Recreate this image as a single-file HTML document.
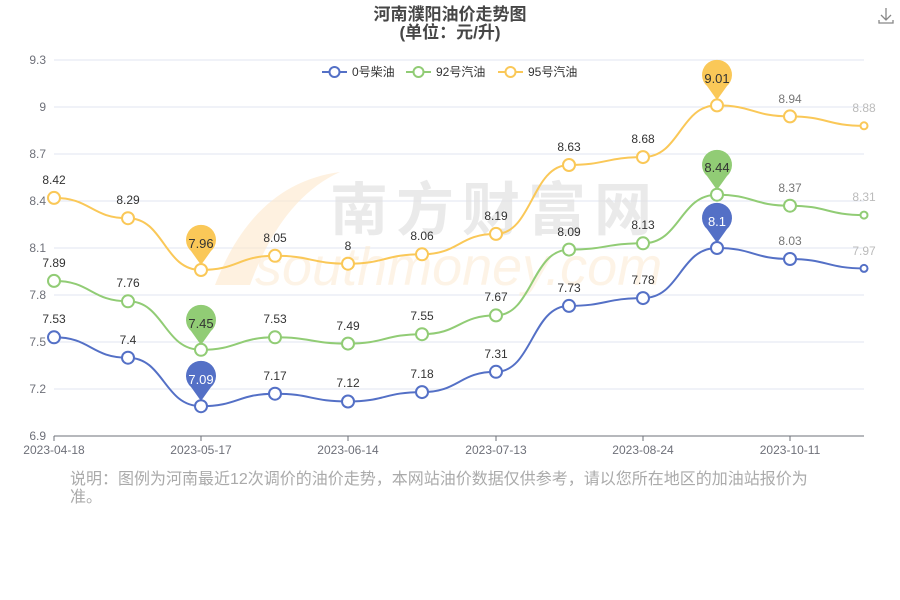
<!DOCTYPE html><html><head><meta charset="utf-8"><style>body{margin:0;background:#fff}svg{display:block}text{font-family:"Liberation Sans","Noto Sans CJK SC",sans-serif}</style></head><body>
<svg width="900" height="600" viewBox="0 0 900 600">
<text x="450" y="20" text-anchor="middle" font-size="17" font-weight="bold" fill="#464646">河南濮阳油价走势图</text>
<text x="450" y="38" text-anchor="middle" font-size="17" font-weight="bold" fill="#464646">(单位：元/升)</text>
<g stroke="#888" stroke-width="1.3" fill="none"><path d="M886 8v12M881 15l5 5 5-5M879 20v3h14v-3"/></g>
<g stroke="#e0e6f1" stroke-width="1"><line x1="54" x2="864" y1="60" y2="60"/><line x1="54" x2="864" y1="107" y2="107"/><line x1="54" x2="864" y1="154" y2="154"/><line x1="54" x2="864" y1="201" y2="201"/><line x1="54" x2="864" y1="248" y2="248"/><line x1="54" x2="864" y1="295" y2="295"/><line x1="54" x2="864" y1="342" y2="342"/><line x1="54" x2="864" y1="389" y2="389"/></g>
<line x1="54" x2="864" y1="436" y2="436" stroke="#6e7079"/>
<g stroke="#6e7079"><line x1="54" x2="54" y1="436" y2="441"/><line x1="201" x2="201" y1="436" y2="441"/><line x1="348" x2="348" y1="436" y2="441"/><line x1="496" x2="496" y1="436" y2="441"/><line x1="643" x2="643" y1="436" y2="441"/><line x1="790" x2="790" y1="436" y2="441"/></g>
<g font-size="12" fill="#6e7079" text-anchor="end"><text x="46" y="64">9.3</text><text x="46" y="111">9</text><text x="46" y="158">8.7</text><text x="46" y="205">8.4</text><text x="46" y="252">8.1</text><text x="46" y="299">7.8</text><text x="46" y="346">7.5</text><text x="46" y="393">7.2</text><text x="46" y="440">6.9</text></g>
<g font-size="12" fill="#6e7079" text-anchor="middle"><text x="54" y="454">2023-04-18</text><text x="201" y="454">2023-05-17</text><text x="348" y="454">2023-06-14</text><text x="496" y="454">2023-07-13</text><text x="643" y="454">2023-08-24</text><text x="790" y="454">2023-10-11</text></g>
<!-- watermark -->
<path d="M215 285 C240 220 280 180 340 172 C300 190 270 230 250 285 Z" fill="#fde8cc" opacity="0.6"/>
<text x="330" y="230" font-size="58" font-weight="bold" fill="#e2e2e2" opacity="0.7" letter-spacing="8">南方财富网</text>
<text x="255" y="285" font-size="54" font-style="italic" fill="#fdebd2" opacity="0.55">southmoney.com</text>
<!-- legend -->
<g stroke-width="2" fill="#fff"><line x1="322" x2="347" y1="72" y2="72" stroke="#5470c6"/><circle cx="334.5" cy="72" r="5" stroke="#5470c6"/><line x1="406" x2="431" y1="72" y2="72" stroke="#91cc75"/><circle cx="418.5" cy="72" r="5" stroke="#91cc75"/><line x1="498" x2="523" y1="72" y2="72" stroke="#fac858"/><circle cx="510.5" cy="72" r="5" stroke="#fac858"/></g>
<g font-size="12" fill="#333"><text x="352" y="76">0号柴油</text><text x="436" y="76">92号汽油</text><text x="528" y="76">95号汽油</text></g>
<g fill="none" stroke-width="2">
<path stroke="#5470c6" d="M54 337.3C91 337.3 91 357.7 128 357.7C164 357.7 164 406.2 201 406.2C238 406.2 238 393.7 275 393.7C311 393.7 311 401.5 348 401.5C385 401.5 385 392.1 422 392.1C459 392.1 459 371.8 496 371.8C532 371.8 532 305.9 569 305.9C606 305.9 606 298.1 643 298.1C680 298.1 680 248 717 248C753 248 753 259 790 259C827 259 827 268.4 864 268.4"/>
<path stroke="#91cc75" d="M54 280.9C91 280.9 91 301.3 128 301.3C164 301.3 164 349.8 201 349.8C238 349.8 238 337.3 275 337.3C311 337.3 311 343.6 348 343.6C385 343.6 385 334.2 422 334.2C459 334.2 459 315.4 496 315.4C532 315.4 532 249.6 569 249.6C606 249.6 606 243.3 643 243.3C680 243.3 680 194.7 717 194.7C753 194.7 753 205.7 790 205.7C827 205.7 827 215.1 864 215.1"/>
<path stroke="#fac858" d="M54 197.9C91 197.9 91 218.2 128 218.2C164 218.2 164 270 201 270C238 270 238 255.8 275 255.8C311 255.8 311 263.7 348 263.7C385 263.7 385 254.3 422 254.3C459 254.3 459 233.9 496 233.9C532 233.9 532 165 569 165C606 165 606 157.1 643 157.1C680 157.1 680 105.4 717 105.4C753 105.4 753 116.4 790 116.4C827 116.4 827 125.8 864 125.8"/>
</g>
<g fill="#fff" stroke-width="2">
<g stroke="#5470c6"><circle cx="54" cy="337.3" r="6"/><circle cx="128" cy="357.7" r="6"/><circle cx="201" cy="406.2" r="6"/><circle cx="275" cy="393.7" r="6"/><circle cx="348" cy="401.5" r="6"/><circle cx="422" cy="392.1" r="6"/><circle cx="496" cy="371.8" r="6"/><circle cx="569" cy="305.9" r="6"/><circle cx="643" cy="298.1" r="6"/><circle cx="717" cy="248" r="6"/><circle cx="790" cy="259" r="6"/><circle cx="864" cy="268.4" r="3.5"/></g>
<g stroke="#91cc75"><circle cx="54" cy="280.9" r="6"/><circle cx="128" cy="301.3" r="6"/><circle cx="201" cy="349.8" r="6"/><circle cx="275" cy="337.3" r="6"/><circle cx="348" cy="343.6" r="6"/><circle cx="422" cy="334.2" r="6"/><circle cx="496" cy="315.4" r="6"/><circle cx="569" cy="249.6" r="6"/><circle cx="643" cy="243.3" r="6"/><circle cx="717" cy="194.7" r="6"/><circle cx="790" cy="205.7" r="6"/><circle cx="864" cy="215.1" r="3.5"/></g>
<g stroke="#fac858"><circle cx="54" cy="197.9" r="6"/><circle cx="128" cy="218.2" r="6"/><circle cx="201" cy="270" r="6"/><circle cx="275" cy="255.8" r="6"/><circle cx="348" cy="263.7" r="6"/><circle cx="422" cy="254.3" r="6"/><circle cx="496" cy="233.9" r="6"/><circle cx="569" cy="165" r="6"/><circle cx="643" cy="157.1" r="6"/><circle cx="717" cy="105.4" r="6"/><circle cx="790" cy="116.4" r="6"/><circle cx="864" cy="125.8" r="3.5"/></g>
</g>
<g font-size="12" fill="#333" text-anchor="middle">
<text x="54" y="323">7.53</text><text x="128" y="344">7.4</text><text x="275" y="380">7.17</text><text x="348" y="387">7.12</text><text x="422" y="378">7.18</text><text x="496" y="358">7.31</text><text x="569" y="292">7.73</text><text x="643" y="284">7.78</text><text x="790" y="245" fill="#777">8.03</text><text x="864" y="255" fill="#bbb">7.97</text>
<text x="54" y="267">7.89</text><text x="128" y="287">7.76</text><text x="275" y="323">7.53</text><text x="348" y="330">7.49</text><text x="422" y="320">7.55</text><text x="496" y="301">7.67</text><text x="569" y="236">8.09</text><text x="643" y="229">8.13</text><text x="790" y="192" fill="#777">8.37</text><text x="864" y="201" fill="#bbb">8.31</text>
<text x="54" y="184">8.42</text><text x="128" y="204">8.29</text><text x="275" y="242">8.05</text><text x="348" y="250">8</text><text x="422" y="240">8.06</text><text x="496" y="220">8.19</text><text x="569" y="151">8.63</text><text x="643" y="143">8.68</text><text x="790" y="103" fill="#777">8.94</text><text x="864" y="112" fill="#bbb">8.88</text>
</g>
<!-- pins -->
<g>
<path fill="#5470c6" d="M201 401 L191 387 A15 15 0 1 1 211 387 Z"/>
<path fill="#5470c6" d="M717 243 L707 229 A15 15 0 1 1 727 229 Z"/>
<path fill="#91cc75" d="M201 345 L191 331 A15 15 0 1 1 211 331 Z"/>
<path fill="#91cc75" d="M717 190 L707 176 A15 15 0 1 1 727 176 Z"/>
<path fill="#fac858" d="M201 265 L191 251 A15 15 0 1 1 211 251 Z"/>
<path fill="#fac858" d="M717 100 L707 86 A15 15 0 1 1 727 86 Z"/>
</g>
<g font-size="13" text-anchor="middle">
<text x="201" y="384" fill="#fff">7.09</text><text x="717" y="226" fill="#fff">8.1</text>
<text x="201" y="328" fill="#333">7.45</text><text x="717" y="172" fill="#333">8.44</text>
<text x="201" y="248" fill="#333">7.96</text><text x="717" y="83" fill="#333">9.01</text>
</g>
<g font-size="16" fill="#aaa"><text x="70" y="484">说明：图例为河南最近12次调价的油价走势，本网站油价数据仅供参考，请以您所在地区的加油站报价为</text><text x="70" y="502">准。</text></g>
</svg></body></html>
